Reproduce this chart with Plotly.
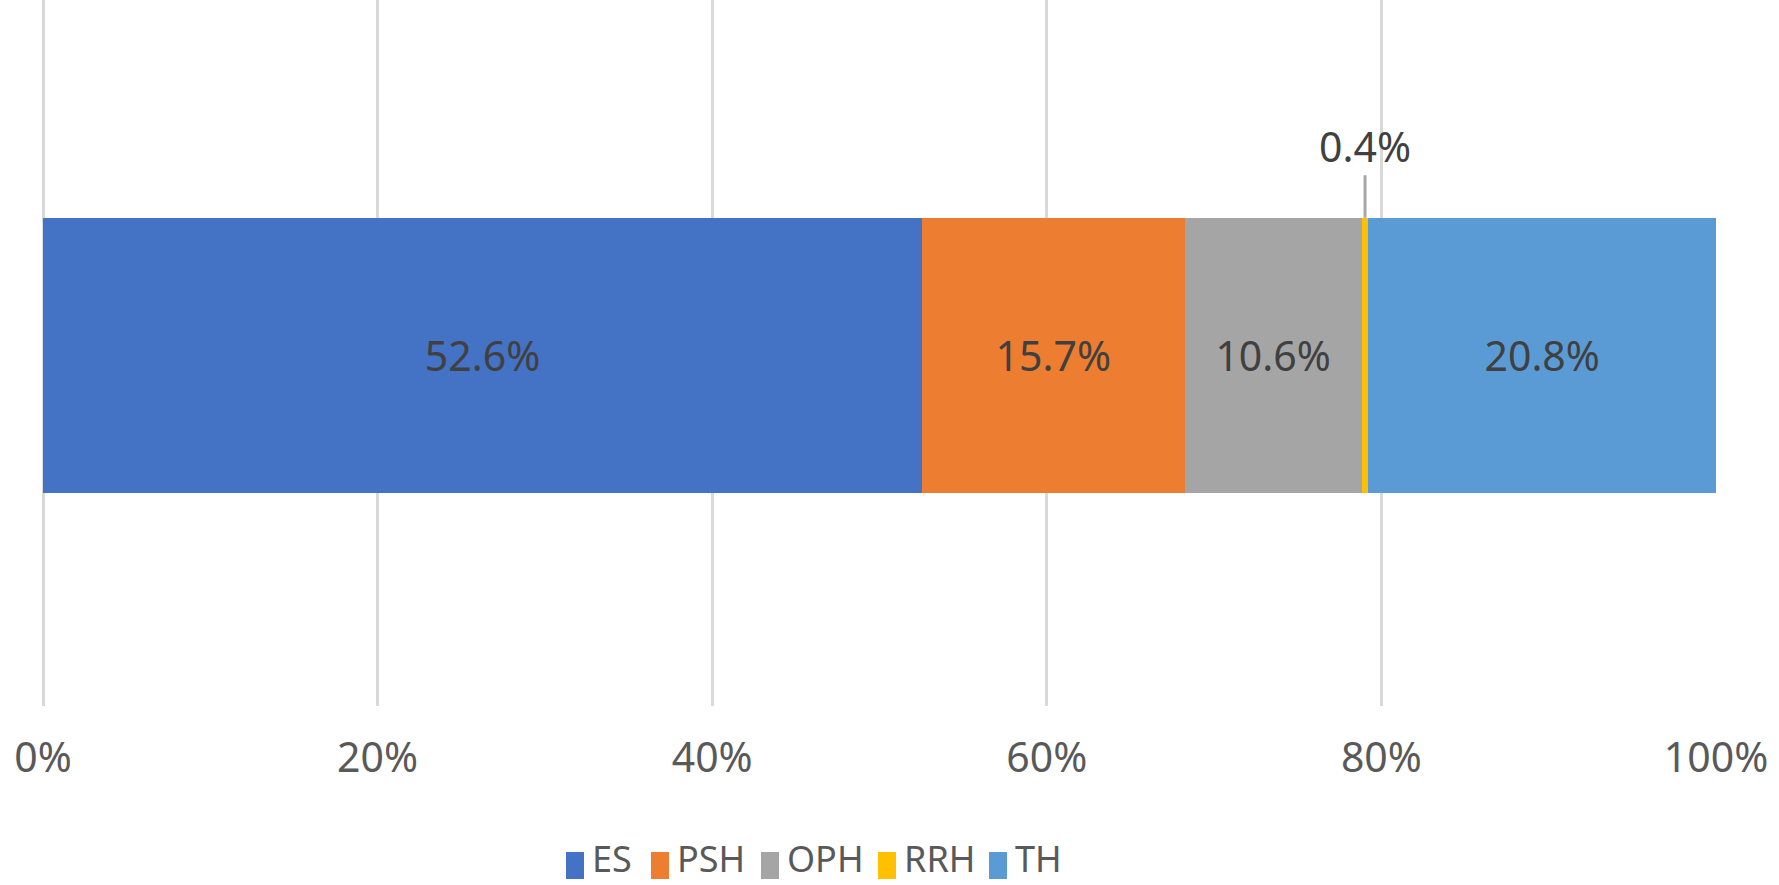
import plotly.graph_objects as go

# ---- data ----
categories = ["ES", "PSH", "OPH", "RRH", "TH"]
values = [52.6, 15.7, 10.6, 0.4, 20.8]
colors = ["#4472C4", "#ED7D31", "#A5A5A5", "#FFC000", "#5B9BD5"]
tick_vals = [0, 20, 40, 60, 80, 100]
tick_text = ["0%", "20%", "40%", "60%", "80%", "100%"]
outside_label = "RRH"   # label drawn with a leader line

# ---- layout constants ----
W, H = 1779, 885
ML, MR, MT, MB = 43, 63, 0, 179
PW, PH = W - ML - MR, H - MT - MB
BAR_WIDTH = 0.39
FONT = "Noto Sans"
FS = 41

def px_x(p):
    return (p - ML) / PW

def px_y(p):
    return (PH - p) / PH

fig = go.Figure()
for cat, val, col in zip(categories, values, colors):
    txt = "" if cat == outside_label else f"{val}%"
    fig.add_trace(go.Bar(
        y=[0], x=[val], name=cat, orientation="h",
        marker=dict(color=col, line=dict(width=0)),
        width=BAR_WIDTH,
        text=[txt], textposition="inside", insidetextanchor="middle",
        textangle=0, constraintext="none",
        textfont=dict(family=FONT, size=FS, color="#404040"),
        showlegend=False, hoverinfo="skip",
    ))

# leader-line label for the thin segment
total = sum(values)
idx = categories.index(outside_label)
center = (sum(values[:idx]) + values[idx] / 2) / total * 100
fig.add_annotation(
    x=center, y=BAR_WIDTH / 2, xref="x", yref="y",
    text=f"{values[idx]}%", showarrow=True, arrowhead=0,
    arrowcolor="#A6A6A6", arrowwidth=3, ax=0, ay=-72,
    font=dict(family=FONT, size=FS, color="#404040"),
)

# custom legend
legend_x = [566, 651, 761, 878, 989]
sw_w, sw_top, sw_bot = 18, 852, 879
for cat, col, lx in zip(categories, colors, legend_x):
    fig.add_shape(type="rect", xref="paper", yref="paper",
                  x0=px_x(lx), x1=px_x(lx + sw_w),
                  y0=px_y(sw_bot), y1=px_y(sw_top),
                  fillcolor=col, line=dict(width=0))
    fig.add_annotation(x=px_x(lx + sw_w + 6), y=px_y(858), xref="paper", yref="paper",
                       text=cat, showarrow=False, xanchor="left", yanchor="middle",
                       font=dict(family=FONT, size=36, color="#595959"))

fig.update_layout(
    barmode="stack", barnorm="percent",
    width=W, height=H,
    margin=dict(l=ML, r=MR, t=MT, b=MB, pad=0),
    paper_bgcolor="white", plot_bgcolor="white",
    xaxis=dict(range=[0, 100], tickvals=tick_vals, ticktext=tick_text,
               showgrid=True, gridcolor="#D9D9D9", gridwidth=3,
               zeroline=True, zerolinecolor="#D9D9D9", zerolinewidth=3,
               showline=False, ticks="outside", ticklen=16,
               tickcolor="rgba(0,0,0,0)",
               tickfont=dict(family=FONT, size=FS, color="#595959")),
    yaxis=dict(range=[-0.4965, 0.5035], visible=False),
)

fig.write_html("out.html", config={"displayModeBar": False})

# remove the browser's default body margin so the figure sits at (0, 0)
with open("out.html", "r", encoding="utf-8") as f:
    html = f.read()
html = html.replace("<head>", "<head><style>html,body{margin:0;padding:0;overflow:hidden;}</style>", 1)
with open("out.html", "w", encoding="utf-8") as f:
    f.write(html)
